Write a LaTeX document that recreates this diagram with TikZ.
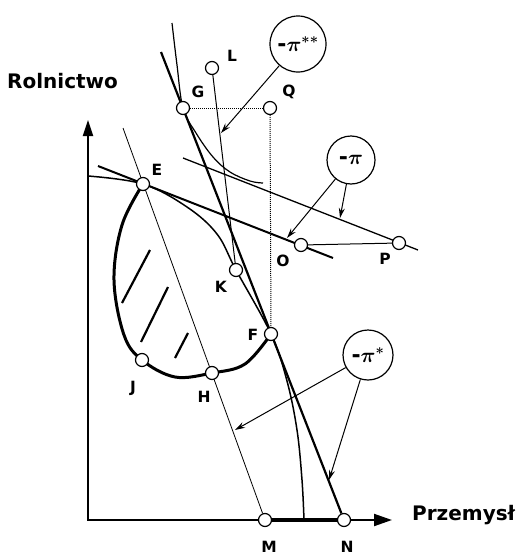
\documentclass[tikz,border=0pt]{standalone}
\usepackage{fontspec}
\setmainfont{DejaVu Sans}
\usetikzlibrary{arrows.meta,backgrounds}
\begin{document}
\begin{tikzpicture}[x=1pt,y=-1pt,
  pt/.style={circle,draw,fill=white,minimum size=13pt,inner sep=0pt,line width=1.2pt},
  lbl/.style={font=\bfseries\fontsize{15.5}{15.5}\selectfont},
  axlbl/.style={font=\bfseries\fontsize{20}{20}\selectfont,anchor=base west,inner sep=0pt},
  pilbl/.style={circle,draw,line width=1.2pt,inner sep=0pt,font=\bfseries\boldmath\fontsize{22}{22}\selectfont},
  arr/.style={line width=1pt,-{Stealth[length=10pt,width=6pt]}},
  thinline/.style={line width=0.8pt},
  dotline/.style={line width=1pt,densely dotted}]
\useasboundingbox (0,0) rectangle (521,557);
% points
\node[pt] (E) at (143,184) {};
\node[pt] (G) at (183,108) {};
\node[pt] (Q) at (270,108) {};
\node[pt] (L) at (212,68) {};
\node[pt] (O) at (301,245) {};
\node[pt] (P) at (399,243) {};
\node[pt] (K) at (236,270) {};
\node[pt] (F) at (271,334) {};
\node[pt] (J) at (142,360) {};
\node[pt] (H) at (212,373) {};
\node[pt] (M) at (265,520) {};
\node[pt] (N) at (344,520) {};
% point labels
\node[lbl] (lE) at (157,170) {E};
\node[lbl] (lG) at (198,92) {G};
\node[lbl] (lL) at (232,56) {L};
\node[lbl] (lQ) at (289,92) {Q};
\node[lbl] (lO) at (283,261) {O};
\node[lbl] (lP) at (385,259) {P};
\node[lbl] (lK) at (221,287) {K};
\node[lbl] (lF) at (253,335) {F};
\node[lbl] (lJ) at (133,388) {J};
\node[lbl] (lH) at (204,397) {H};
\node[lbl] (lM) at (269,547) {M};
\node[lbl] (lN) at (347,547) {N};
% axis labels
\node[axlbl] (rol) at (7,88) {Rolnictwo};
\node[axlbl] (prz) at (412,520) {Przemysł};
% price labels
\node[pilbl,minimum size=56pt,fill=white] (pi2) at (298,44) {-$\pi^{**}$};
\node[pilbl,minimum size=48pt,fill=white] (pi0) at (351,160) {-$\pi$};
\node[pilbl,minimum size=50pt,fill=white] (pi1) at (368,355) {-$\pi^{*}$};
% coordinates
\coordinate (origin) at (88,520);
\coordinate (ytip) at (88,120);
\coordinate (xtip) at (392,520);
\coordinate (t1) at (161,52);
\coordinate (b1) at (98,166);
\coordinate (b2) at (333,258);
\coordinate (u1) at (183,158);
\coordinate (u2) at (418,250);
\coordinate (e1) at (123,128);
\coordinate (a1) at (221,133);
\coordinate (a2) at (287,238);
\coordinate (a3) at (340,218);
\coordinate (a4) at (235,430);
\coordinate (a5) at (329,480);
\begin{scope}[on background layer]
\fill[white] (0,0) rectangle (521,557);
% axes
\draw[line width=2pt,{Triangle[length=16pt,width=10pt]}-{Triangle[length=18pt,width=12pt]}] (ytip) -- (origin) -- (xtip);
\draw[line width=3.2pt] (M) -- (N);
% production possibility curve
\draw[line width=1.5pt] plot[smooth,tension=0.6] coordinates {(88,176) (E) (187,207) (217,234) (K) (F) (287,381) (297,430) (302,480) (304,520)};
% thick loop
\draw[line width=3pt] plot[smooth,tension=0.6] coordinates {(E) (122,225) (114,280) (124,335) (J) (175,377) (H) (245,364) (F)};
% hatching
\draw[line width=2.2pt] (150,250) -- (122,303);
\draw[line width=2.2pt] (168,287) -- (141,342);
\draw[line width=2.2pt] (188,333) -- (175,358);
% price lines
\draw[line width=2.2pt] (t1) -- (N);
\draw[line width=2pt] (b1) -- (b2);
\draw[line width=1.3pt] (u1) -- (u2);
% curve through G
\draw[line width=1.2pt] plot[smooth,tension=0.6] coordinates {(172,23) (177,65) (G) (196,133) (213,157) (230,172) (250,181) (263,183)};
% other lines
\draw[thinline] (e1) -- (M);
\draw[line width=1pt] (L) -- (K);
\draw[dotline] (G) -- (Q);
\draw[dotline] (Q) -- (F);
\draw[line width=1pt] (O) -- (P);
\end{scope}
% arrows
\draw[arr] (pi2) -- (a1);
\draw[arr] (pi0) -- (a2);
\draw[arr] (pi0) -- (a3);
\draw[arr] (pi1) -- (a4);
\draw[arr] (pi1) -- (a5);
\end{tikzpicture}
\end{document}
